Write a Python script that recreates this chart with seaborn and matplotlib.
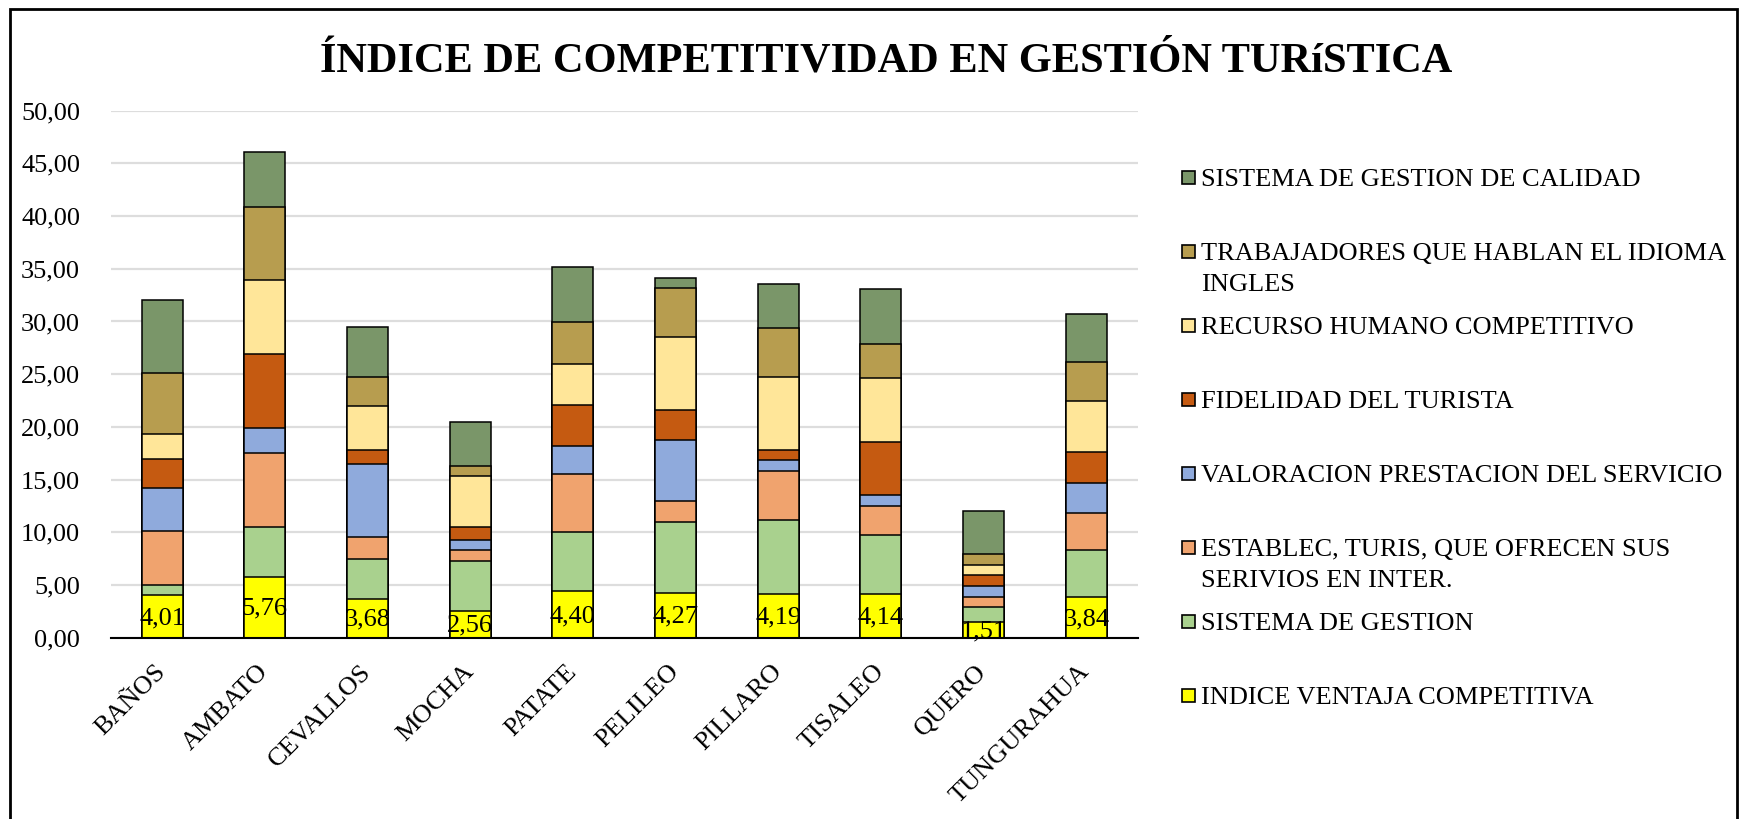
import numpy as np
import pandas as pd
import matplotlib
matplotlib.use("Agg")
import matplotlib.pyplot as plt
from matplotlib.patches import Rectangle
import seaborn as sns

# ---------------- data ----------------
municipios = ["BAÑOS", "AMBATO", "CEVALLOS", "MOCHA", "PATATE",
              "PELILEO", "PILLARO", "TISALEO", "QUERO", "TUNGURAHUA"]

indice_ventaja = [4.01, 5.76, 3.68, 2.56, 4.40, 4.27, 4.19, 4.14, 1.51, 3.84]
sistema_gestion = [0.98, 4.78, 3.77, 4.75, 5.61, 6.69, 6.95, 5.59, 1.37, 4.49]
establec_inter = [5.09, 6.99, 2.07, 0.98, 5.52, 2.01, 4.64, 2.81, 1.02, 3.51]
valoracion_servicio = [4.15, 2.36, 6.99, 1.02, 2.64, 5.83, 1.05, 0.99, 1.02, 2.88]
fidelidad_turista = [2.74, 7.03, 1.30, 1.23, 3.90, 2.81, 0.98, 5.02, 1.02, 2.88]
recurso_humano = [2.36, 6.99, 4.22, 4.81, 3.90, 6.89, 6.96, 6.12, 0.98, 4.82]
trabajadores_ingles = [5.76, 6.95, 2.67, 0.95, 4.00, 4.67, 4.64, 3.19, 1.02, 3.76]
sistema_calidad = [6.99, 5.20, 4.78, 4.18, 5.24, 0.98, 4.11, 5.24, 4.11, 4.49]

series_names = [
    "INDICE VENTAJA COMPETITIVA",
    "SISTEMA DE GESTION",
    "ESTABLEC, TURIS, QUE OFRECEN SUS\nSERIVIOS EN INTER.",
    "VALORACION PRESTACION DEL SERVICIO",
    "FIDELIDAD DEL TURISTA",
    "RECURSO HUMANO COMPETITIVO",
    "TRABAJADORES QUE HABLAN EL IDIOMA\nINGLES",
    "SISTEMA DE GESTION DE CALIDAD",
]
series_values = [indice_ventaja, sistema_gestion, establec_inter,
                 valoracion_servicio, fidelidad_turista, recurso_humano,
                 trabajadores_ingles, sistema_calidad]
series_colors = ["#FFFF00", "#A9D18E", "#F0A36E", "#8FAADC",
                 "#C55A11", "#FFE699", "#B79D4F", "#7A9669"]

title = "ÍNDICE DE COMPETITIVIDAD EN GESTIÓN TURíSTICA"
ytick_values = [0, 5, 10, 15, 20, 25, 30, 35, 40, 45, 50]

# ---------------- style ----------------
sns.set_theme(style="white")
plt.rcParams["font.family"] = ["Liberation Serif", "DejaVu Serif"]

W, H = 1745, 819
fig = plt.figure(figsize=(W / 100, H / 100), dpi=100)
ax = fig.add_axes([110.7 / W, 1 - 637.7 / H, (1137.7 - 110.7) / W, (637.7 - 110.7) / H])

df = pd.DataFrame({"municipio": municipios})
vals = np.array(series_values)
cum = np.cumsum(vals, axis=0)
for i, name in enumerate(series_names):
    df[f"cum{i}"] = cum[i]

# draw tallest cumulative first, so lower segments overlay
for i in range(len(series_names) - 1, -1, -1):
    sns.barplot(data=df, x="municipio", y=f"cum{i}", color=series_colors[i],
                saturation=1, width=0.4, edgecolor="black", linewidth=1.1,
                errorbar=None, ax=ax, zorder=3)

# data labels on the first series
for i, v in enumerate(indice_ventaja):
    ax.text(i, v / 2 - 0.15, f"{v:.2f}".replace(".", ","), ha="center",
            va="center", fontsize=19, color="black", zorder=5)

ax.set_ylim(0, 50)
ax.set_xlim(-0.5, len(municipios) - 0.5)
ax.set_yticks(ytick_values)
ax.set_yticklabels([f"{v:.2f}".replace(".", ",") for v in ytick_values], fontsize=19)
ax.yaxis.grid(True, color="#DDDDDD", linewidth=1.6, zorder=0)
ax.xaxis.grid(False)
ax.set_axisbelow(True)
ax.set_xlabel("")
ax.set_ylabel("")
for s in ["left", "right", "top"]:
    ax.spines[s].set_visible(False)
ax.spines["bottom"].set_color("black")
ax.spines["bottom"].set_linewidth(1.5)
ax.spines["bottom"].set_zorder(6)
ax.tick_params(axis="y", length=0, pad=22, colors="black")
ax.set_xticks(range(len(municipios)))
ax.set_xticklabels(municipios, rotation=45, ha="right", rotation_mode="anchor",
                   fontsize=19, va="center")
ax.tick_params(axis="x", which="major", length=0, pad=22, colors="black")
ax.set_xticks(np.arange(-0.5, len(municipios), 1.0), minor=True)
ax.tick_params(axis="x", which="minor", length=7, width=1.3, direction="out", color="black")

# title
fig.text(886 / W, 1 - 71 / H, title, ha="center", va="baseline",
         fontsize=30.5, fontweight="bold", color="black")

# legend (reverse order, top = last series)
x_box = 1182
x_text = 1201
for k, idx in enumerate(range(len(series_names) - 1, -1, -1)):
    base = 186.5 + 74 * k
    cap_center = base - 9
    fig.patches.append(Rectangle((x_box / W, 1 - (cap_center + 6.5) / H), 13 / W, 13 / H,
                                 transform=fig.transFigure, facecolor=series_colors[idx],
                                 edgecolor="black", linewidth=1.2))
    for j, line in enumerate(series_names[idx].split("\n")):
        fig.text(x_text / W, 1 - (base + 30.5 * j) / H, line, ha="left",
                 va="baseline", fontsize=19, color="black")

# outer frame
fig.patches.append(Rectangle((10 / W, -0.05), (1737 - 10) / W, 1 - 9 / H + 0.05,
                             transform=fig.transFigure, fill=False,
                             edgecolor="black", linewidth=2))

fig.savefig("out.png", dpi=100, facecolor="white")
